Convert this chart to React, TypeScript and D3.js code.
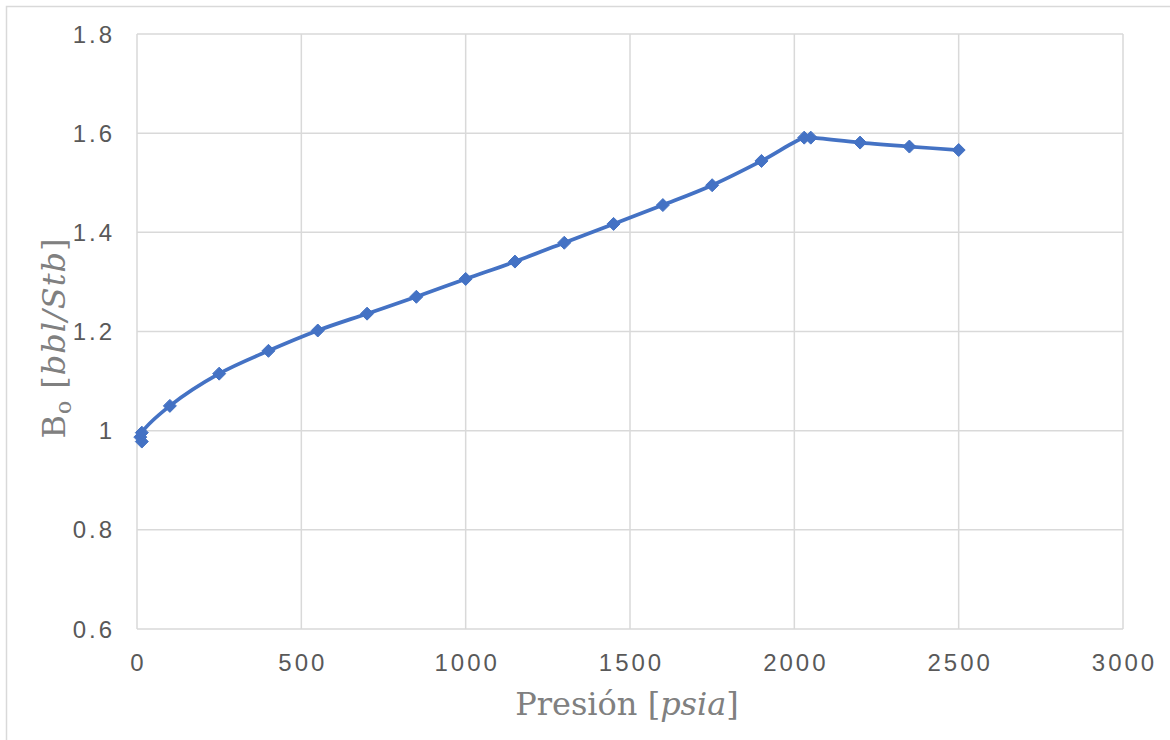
import React from "react";
import * as d3 from "d3";

const pressures = [14.7, 10, 14.7, 100, 250, 400, 550, 700, 850, 1000, 1150, 1300, 1450, 1600, 1750, 1900, 2030, 2050, 2200, 2350, 2500];
const boValues = [0.978, 0.987, 0.996, 1.05, 1.115, 1.161, 1.202, 1.236, 1.27, 1.306, 1.341, 1.379, 1.417, 1.455, 1.495, 1.544, 1.591, 1.591, 1.581, 1.573, 1.566];
const xTicks = [0, 500, 1000, 1500, 2000, 2500, 3000];
const yTicks = [0.6, 0.8, 1.0, 1.2, 1.4, 1.6, 1.8];

const W = 1170, H = 740;
const M = { left: 137, right: 1123, top: 34, bottom: 629 };

export default function App() {
  const x = d3.scaleLinear().domain([0, 3000]).range([M.left, M.right]);
  const y = d3.scaleLinear().domain([0.6, 1.8]).range([M.bottom, M.top]);
  const pts: [number, number][] = pressures.map((p, i) => [p, boValues[i]]);
  const line = d3.line<[number, number]>().x(d => x(d[0])).y(d => y(d[1])).curve(d3.curveCatmullRom.alpha(0.5));
  const diamond = (cx: number, cy: number, r = 6.5) => `M${cx},${cy - r}L${cx + r},${cy}L${cx},${cy + r}L${cx - r},${cy}Z`;
  const tickFont = "'Liberation Sans', Arial, sans-serif";
  const titleFont = "'DejaVu Serif', 'Liberation Serif', serif";
  const ls = 3;
  return (
    <svg width={W} height={H} style={{ position: "absolute", left: 0, top: 0 }}>
      <rect x={0} y={0} width={W} height={H} fill="#fff" />
      <rect x={6.5} y={6.5} width={W} height={H} fill="none" stroke="#d9d9d9" strokeWidth={1.5} />
      {xTicks.map(t => (
        <line key={"gx" + t} x1={x(t)} x2={x(t)} y1={M.top} y2={M.bottom} stroke="#d9d9d9" strokeWidth={1.5} />
      ))}
      {yTicks.map(t => (
        <line key={"gy" + t} x1={M.left} x2={M.right} y1={y(t)} y2={y(t)} stroke="#d9d9d9" strokeWidth={1.5} />
      ))}
      {yTicks.map(t => (
        <text key={"ty" + t} x={112 + ls} y={y(t)} dy="0.36em" textAnchor="end" fontFamily={tickFont} fontSize={24} letterSpacing={ls} fill="#595959">
          {String(+t.toFixed(1))}
        </text>
      ))}
      {xTicks.map(t => (
        <text key={"tx" + t} x={x(t) + ls / 2} y={671} textAnchor="middle" fontFamily={tickFont} fontSize={24} letterSpacing={ls} fill="#595959">
          {t}
        </text>
      ))}
      <path d={line(pts) || ""} fill="none" stroke="#4472c4" strokeWidth={3.75} strokeLinejoin="round" />
      {pts.map((d, i) => (
        <path key={"m" + i} d={diamond(x(d[0]), y(d[1]))} fill="#4472c4" stroke="#4472c4" strokeWidth={1} />
      ))}
      <text x={627} y={715} textAnchor="middle" fontFamily={titleFont} fontSize={32} fill="#808080">
        Presión [<tspan fontStyle="italic">psia</tspan>]
      </text>
      <text transform={`translate(65, 338) rotate(-90)`} textAnchor="middle" fontFamily={titleFont} fontSize={32} letterSpacing={1} fill="#808080">
        B<tspan fontSize={22} dy="6">o</tspan><tspan dy="-6"> [</tspan><tspan fontStyle="italic">bbl/Stb</tspan>]
      </text>
    </svg>
  );
}
